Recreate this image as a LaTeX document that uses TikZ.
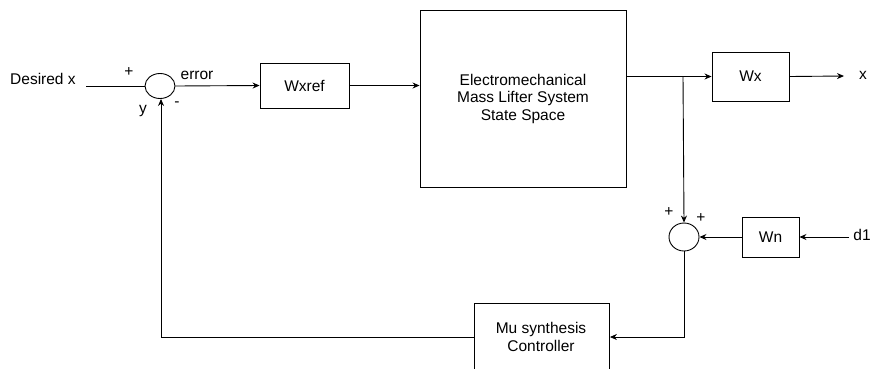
\documentclass[tikz,border=0pt]{standalone}
\usepackage{fontspec}
\setmainfont{Liberation Sans}
\usetikzlibrary{arrows.meta,shapes.geometric}
\begin{document}
\begin{tikzpicture}[x=1pt,y=-1pt,
  every node/.style={font=\fontsize{15.5}{17.5}\selectfont},
  blk/.style={draw,line width=0.9pt,inner sep=0pt,align=center},
  sumnode/.style={draw,ellipse,line width=0.9pt,inner sep=0pt},
  wire/.style={line width=0.9pt},
  arr/.style={wire,-{Stealth[length=7pt,width=6pt]}},
  lbl/.style={inner sep=0pt,anchor=center,align=center}]
\useasboundingbox (0,0) rectangle (870,368);
% nodes
\node[lbl,anchor=west] (din) at (10,79) {Desired x};
\coordinate (dstart) at (86,86);
\node[sumnode,minimum width=30pt,minimum height=25pt] (s1) at (160,86) {};
\node[blk,minimum width=89pt,minimum height=45pt] (wxref) at (304.5,85.5) {Wxref};
\node[blk,minimum width=206pt,minimum height=177pt] (plant) at (523,98.5) {Electromechanical\\Mass Lifter System\\State Space};
\node[blk,minimum width=77pt,minimum height=49pt] (wx) at (750.5,76.5) {Wx};
\node[lbl] (xout) at (863,75) {x};
\coordinate (xend) at (844,76);
\coordinate (junc) at (683,76);
\node[sumnode,minimum width=30pt,minimum height=28pt] (s2) at (684,237) {};
\node[blk,minimum width=57pt,minimum height=40pt] (wn) at (770.5,237) {Wn};
\node[lbl] (d1) at (862,235) {d1};
\coordinate (dstart2) at (849,237);
\node[blk,minimum width=135pt,minimum height=90pt,anchor=north west] (ctrl) at (474,303) {};
\node[lbl] (ctrltxt) at (541,337) {Mu synthesis\\Controller};
\coordinate (c1) at (684,337);
\coordinate (c2) at (161,337);
% labels
\node[lbl] (p1) at (129,72) {+};
\node[lbl] (err) at (197,75) {error};
\node[lbl] (ylab) at (143,111) {y};
\node[lbl] (mn) at (177,104) {-};
\node[lbl] (p2) at (669,212) {+};
\node[lbl] (p3) at (701,218) {+};
% connectors
\draw[wire] (dstart) -- (s1.west);
\draw[arr] (s1.east) -- (wxref.west);
\draw[arr] (wxref.east) -- (plant.west |- wxref.east);
\draw[arr] (plant.east |- wx.west) -- (wx.west);
\draw[arr] (wx.east) -- (xend);
\draw[arr] (junc) -- (s2.north);
\draw[arr] (dstart2) -- (wn.east);
\draw[arr] (wn.west) -- (s2.east);
\draw[arr] (s2.south) -- (c1) -- (ctrl.east |- c1);
\draw[arr] (ctrl.west |- c2) -- (c2) -- (s1.south -| c2);
\end{tikzpicture}
\end{document}
